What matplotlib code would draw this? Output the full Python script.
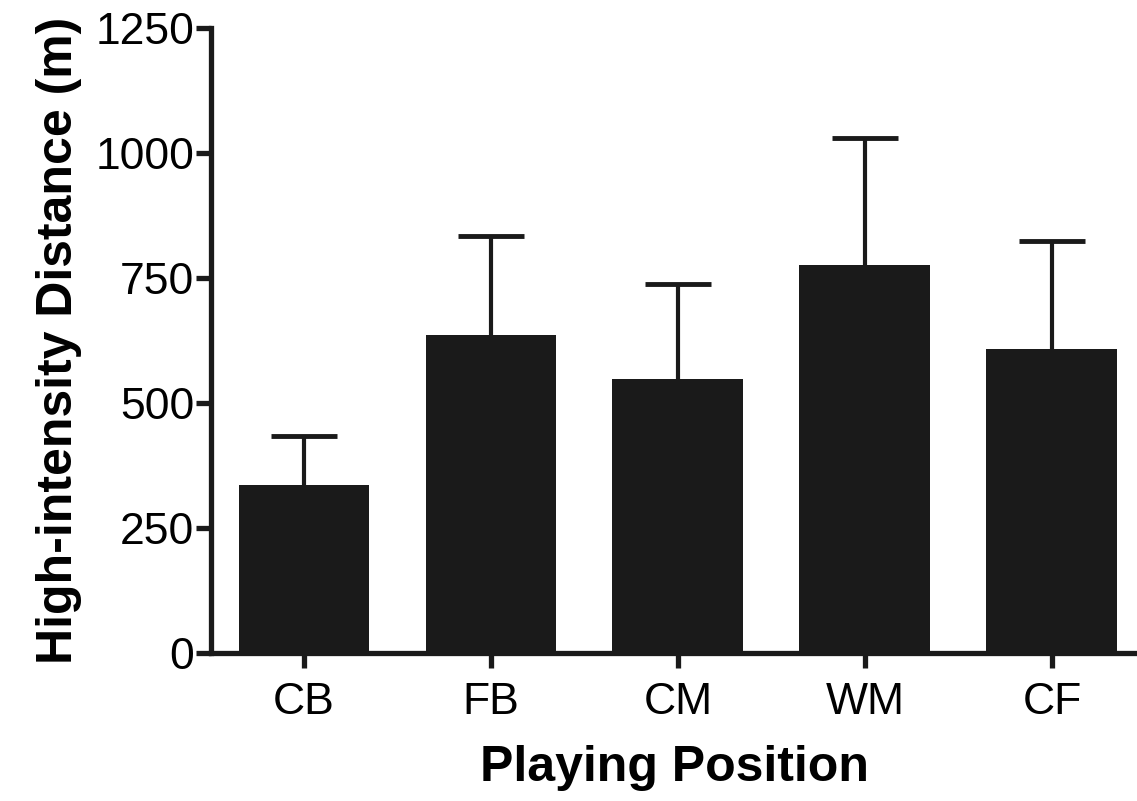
import matplotlib
matplotlib.use('Agg')

import matplotlib.pyplot as plt
import numpy as np

positions = ["CB", "FB", "CM", "WM", "CF"]
mean_dist = [336, 636, 548, 777, 609]
sd_dist = [97, 199, 190, 254, 216]

plt.rcParams['font.family'] = ['Liberation Sans', 'DejaVu Sans']

fig = plt.figure(figsize=(11.37, 8.01), dpi=100)
ax = fig.add_axes([0.1856, 0.1848, 0.8144, 0.7802])

x = np.arange(len(positions))
ax.bar(x, mean_dist, width=0.7, color="#1a1a1a", zorder=2)
# symmetric error bars drawn behind the bars, so only the upper half shows
ax.errorbar(x, mean_dist, yerr=sd_dist, fmt="none",
            ecolor="#1a1a1a", elinewidth=3, capsize=24, capthick=3.5, zorder=1)

ax.set_xlim(-0.497, 4.455)
ax.set_ylim(0, 1250)
ax.set_yticks([0, 250, 500, 750, 1000, 1250])
ax.set_xticks(x)
ax.set_xticklabels(positions)

ax.spines[["top", "right"]].set_visible(False)
for s in ["left", "bottom"]:
    ax.spines[s].set_linewidth(3.8)
    ax.spines[s].set_color("#1a1a1a")
ax.tick_params(axis="both", width=3.8, length=11, color="#1a1a1a",
               labelsize=32, direction="out")
ax.tick_params(axis="y", pad=1)
ax.tick_params(axis="x", pad=10)

ax.set_ylabel("High-intensity Distance (m)", fontsize=36, fontweight="bold",
              labelpad=10)
ax.set_xlabel("Playing Position", fontsize=36, fontweight="bold", labelpad=16)

plt.savefig("out.png", dpi=100)
